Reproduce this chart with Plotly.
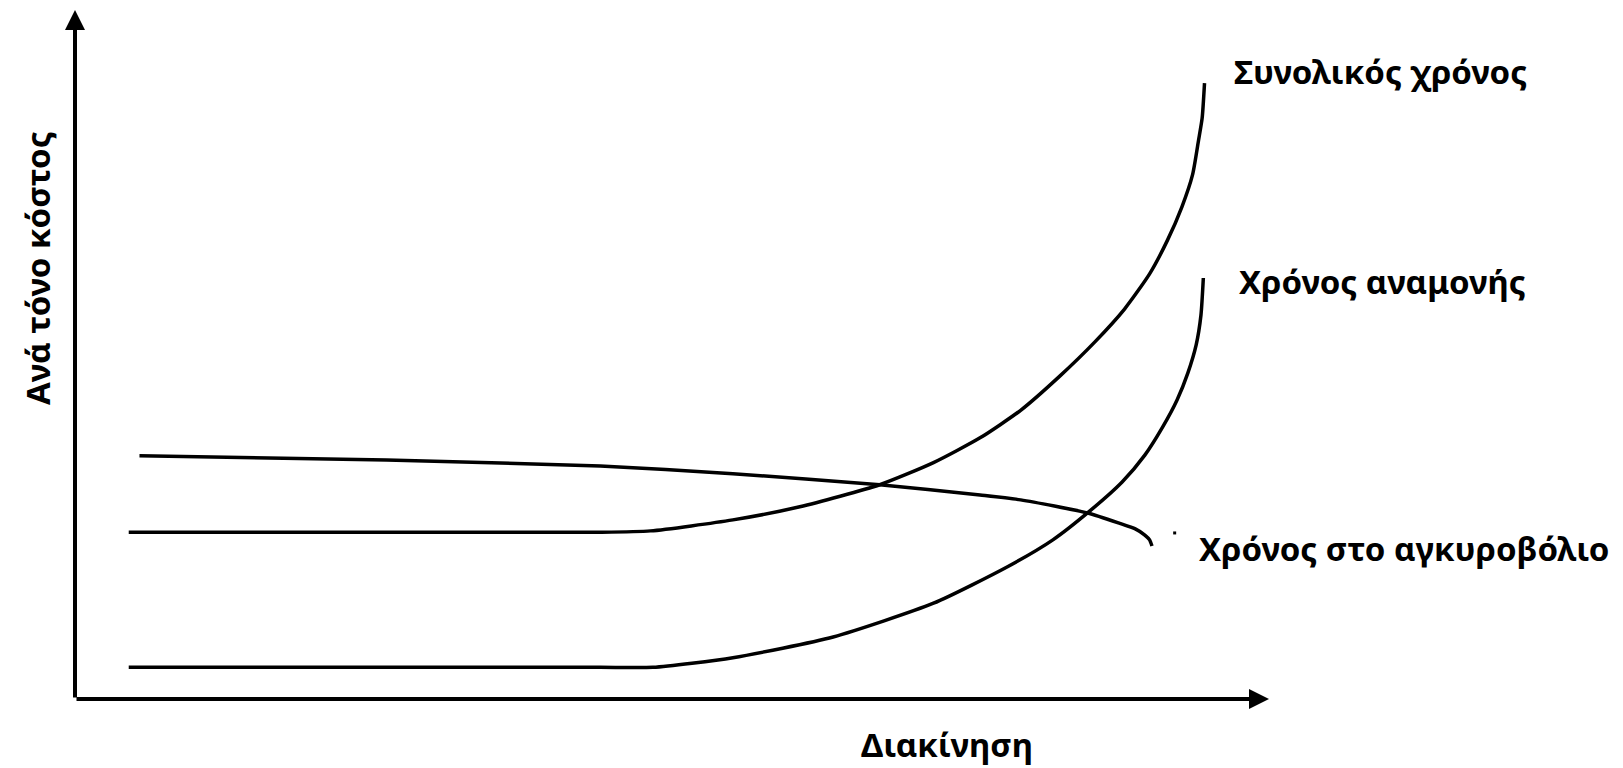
import plotly.graph_objects as go

# ---- data (arbitrary units: x = throughput, y = cost per ton) ----
total_x = [4.5, 31.4, 44.0, 48.2, 55.1, 60.7, 67.4, 71.9, 75.8, 79.2, 82.5, 85.4, 87.9, 90.0,
           91.5, 92.7, 93.6, 94.1, 94.4, 94.6]
total_y = [24.2, 24.2, 24.2, 24.4, 26.0, 27.9, 31.1, 34.3, 37.9, 41.9, 46.9, 51.8, 56.6, 61.7,
           66.6, 71.4, 76.1, 81.1, 84.3, 89.4]

wait_x = [4.5, 31.4, 44.0, 48.4, 55.1, 63.5, 71.9, 78.1, 81.9, 85.0, 87.7, 89.6, 91.1, 92.3,
          93.2, 93.9, 94.3, 94.5]
wait_y = [4.6, 4.6, 4.6, 4.6, 6.0, 9.0, 13.9, 19.2, 23.1, 27.3, 31.5, 35.4, 39.5, 43.4,
          47.3, 51.4, 55.7, 61.1]

berth_x = [5.4, 26.1, 44.0, 55.1, 67.4, 75.8, 79.2, 84.8, 87.5, 88.8, 89.6, 90.0, 90.2]
berth_y = [35.3, 34.7, 33.8, 32.7, 31.1, 29.6, 28.9, 27.0, 25.5, 24.7, 23.8, 23.1, 22.2]

dot_x = [92.1]
dot_y = [24.1]

curve_labels = ["Συνολικός χρόνος", "Χρόνος αναμονής", "Χρόνος στο αγκυροβόλιο"]
x_title = "Διακίνηση"
y_title = "Ανά τόνο κόστος"

FONT = "Noto Sans"
FS = 33

fig = go.Figure()
for xs, ys in [(total_x, total_y), (wait_x, wait_y), (berth_x, berth_y)]:
    fig.add_trace(go.Scatter(x=xs, y=ys, mode="lines",
                             line=dict(color="black", width=3.5, shape="spline", smoothing=0.6),
                             hoverinfo="skip", showlegend=False))
fig.add_trace(go.Scatter(x=dot_x, y=dot_y, mode="markers",
                         marker=dict(color="black", size=3, symbol="square"),
                         hoverinfo="skip", showlegend=False))

# axes with arrowheads
fig.add_annotation(x=100, y=0, ax=0, ay=0, xref="x", yref="y", axref="x", ayref="y",
                   showarrow=True, arrowhead=2, arrowsize=1.0, arrowwidth=4, arrowcolor="black", text="")
fig.add_annotation(x=0, y=100, ax=0, ay=0, xref="x", yref="y", axref="x", ayref="y",
                   showarrow=True, arrowhead=2, arrowsize=1.0, arrowwidth=4, arrowcolor="black", text="")

# the page body adds an 8px offset; figure is sized to fit the window
OFF = 8
W, H = 1623 - OFF, 768 - OFF
# axes box in page pixels
L, R, T, B = 75, 1269, 10, 699

def px(xp, yp):
    return (xp - L) / (R - L), (B - yp) / (B - T)

label_pos = [(1232, 72), (1237, 282), (1197, 548)]
for txt, (xp, yp) in zip(curve_labels, label_pos):
    xx, yy = px(xp, yp)
    fig.add_annotation(x=xx, y=yy, xref="paper", yref="paper", text="<b>%s</b>" % txt,
                       showarrow=False, xanchor="left", yanchor="middle",
                       font=dict(family=FONT, size=FS, color="black"))

xx, yy = px(947, 744)
fig.add_annotation(x=xx, y=yy, xref="paper", yref="paper", text="<b>%s</b>" % x_title,
                   showarrow=False, xanchor="center", yanchor="middle",
                   font=dict(family=FONT, size=FS, color="black"))
xx, yy = px(37, 268)
fig.add_annotation(x=xx, y=yy, xref="paper", yref="paper", text="<b>%s</b>" % y_title,
                   showarrow=False, xanchor="center", yanchor="middle", textangle=-90,
                   font=dict(family=FONT, size=FS, color="black"))

fig.update_layout(
    width=W, height=H, autosize=False,
    margin=dict(l=L - OFF, r=1623 - R, t=T - OFF, b=768 - B),
    paper_bgcolor="white", plot_bgcolor="white",
    xaxis=dict(range=[0, 100], visible=False, fixedrange=True),
    yaxis=dict(range=[0, 100], visible=False, fixedrange=True),
)
fig.write_html("out.html", config={"displayModeBar": False})
